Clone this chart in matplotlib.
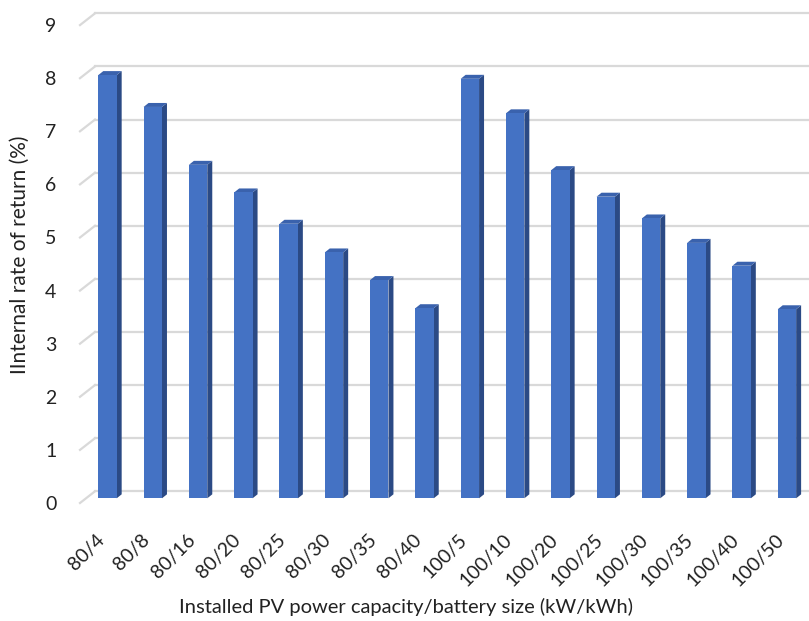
import numpy as np
import matplotlib
matplotlib.use("Agg")
import matplotlib.pyplot as plt
from matplotlib.patches import Polygon

plt.rcParams['font.family'] = ['Lato', 'DejaVu Sans']

# data
configs = ['80/4', '80/8', '80/16', '80/20', '80/25', '80/30', '80/35', '80/40',
           '100/5', '100/10', '100/20', '100/25', '100/30', '100/35', '100/40', '100/50']
irr = [7.97, 7.37, 6.28, 5.76, 5.17, 4.63, 4.11, 3.58,
       7.90, 7.25, 6.18, 5.68, 5.27, 4.81, 4.38, 3.56]
yticks = list(range(0, 10))

# pseudo-3D geometry (data units)
half_w = 0.203
dep_x, dep_y = 0.11, 0.075
back_dy = 0.132
front_dy = -0.0885
wall_x0 = -0.276

col_front = '#4472C4'
col_side = '#2B4A85'
col_top = '#3A62AD'
col_grid = '#D9D9D9'

W, H = 809, 621
fig = plt.figure(figsize=(W / 100, H / 100), dpi=100)
ax = fig.add_axes([80 / W, (H - 503) / H, (W - 80) / W, 503 / H])
x_min, x_max = -0.607, 15.487
ax.set_xlim(x_min, x_max)
ax.set_ylim(-0.0885, 9.384)

# back wall gridlines + slanted side-wall segments
for v in yticks:
    ax.plot([wall_x0, x_max], [v + back_dy, v + back_dy], color=col_grid, lw=1.6,
            clip_on=False, zorder=1)
    ax.plot([x_min, wall_x0], [v + front_dy, v + back_dy], color=col_grid, lw=1.6,
            clip_on=False, zorder=1)

# bars
x = np.arange(len(configs))
for xi, v in zip(x, irr):
    l, r = xi - half_w, xi + half_w
    ax.add_patch(Polygon([(r, 0), (r + dep_x, dep_y), (r + dep_x, v + dep_y), (r, v)],
                         closed=True, facecolor=col_side, edgecolor='none', zorder=3))
    ax.add_patch(Polygon([(l, v), (r, v), (r + dep_x, v + dep_y), (l + dep_x, v + dep_y)],
                         closed=True, facecolor=col_top, edgecolor='none', zorder=3))
ax.bar(x, irr, width=2 * half_w, color=col_front, zorder=4)

for s in ax.spines.values():
    s.set_visible(False)

ax.set_yticks([v + front_dy for v in yticks])
ax.set_yticklabels([str(v) for v in yticks], fontsize=14, color='#222222')
ax.tick_params(axis='y', length=0, pad=17)

ax.set_xticks(x - 0.26)
ax.set_xticklabels(configs, rotation=45, ha='right', va='top', rotation_mode='anchor',
                   fontsize=14, color='#222222')
ax.tick_params(axis='x', length=0, pad=20)

fig.text(406 / W, 1 - 607 / H, 'Installed PV power capacity/battery size (kW/kWh)',
         ha='center', va='center', fontsize=14.5, color='#222222')
fig.text(20 / W, 1 - 255 / H, 'IInternal rate of return (%)', rotation=90,
         ha='center', va='center', fontsize=15, color='#222222')

fig.savefig('out.png', dpi=100)
